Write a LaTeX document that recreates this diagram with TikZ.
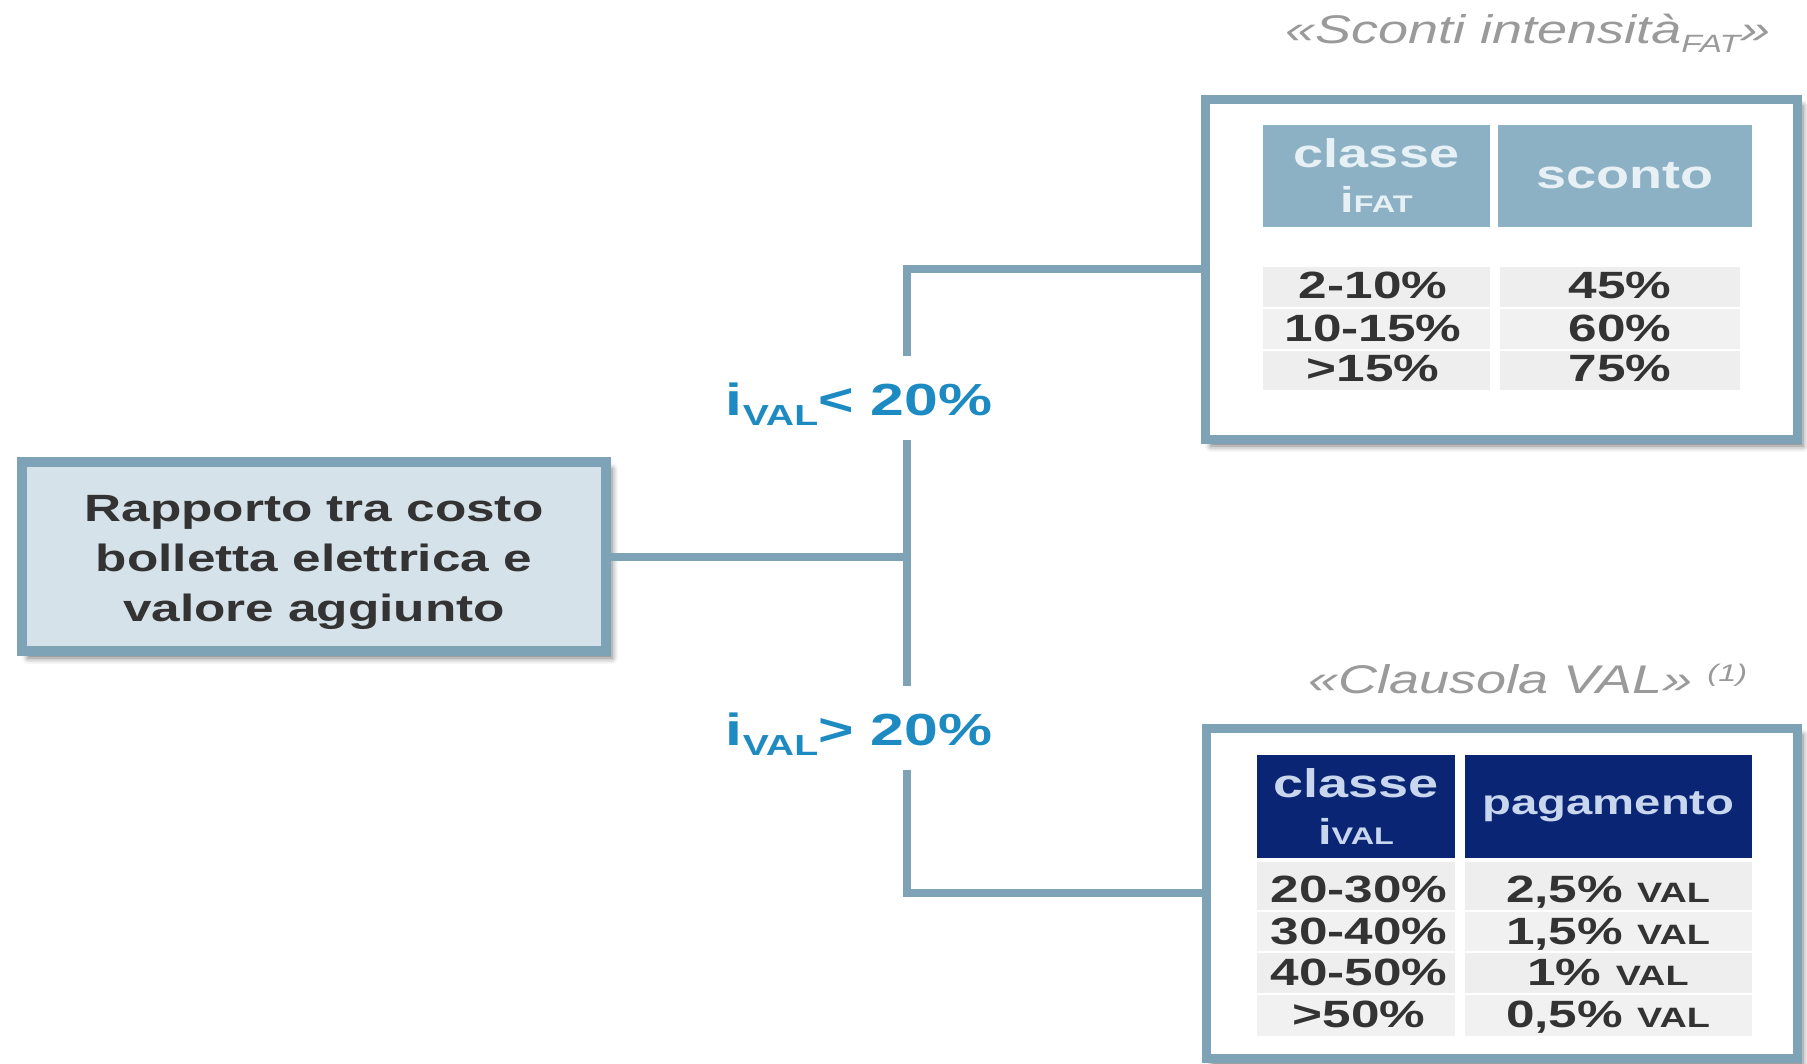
\documentclass[tikz,border=0pt]{standalone}
\usepackage{fontspec}
\setmainfont[FakeStretch=1.35]{Liberation Sans}
\usetikzlibrary{shadows.blur}
\definecolor{bord}{HTML}{7EA2B6}
\definecolor{mainfill}{HTML}{D6E2E9}
\definecolor{hdrA}{HTML}{8CB1C4}
\definecolor{hdrAtext}{HTML}{E6F0F5}
\definecolor{hdrB}{HTML}{0B2575}
\definecolor{hdrBtext}{HTML}{C8D6EE}
\definecolor{rowshade}{HTML}{EEEEEE}
\definecolor{txt}{HTML}{333333}
\definecolor{lab}{HTML}{1E8AC2}
\definecolor{ttl}{HTML}{9A9A9A}
\newcommand{\fsz}[2]{\fontsize{#1}{#2}\selectfont}
\begin{document}
\begin{tikzpicture}[x=1pt,y=-1pt,
  shadowed/.style={blur shadow={shadow xshift=6pt, shadow yshift=-7pt, shadow blur radius=6pt, shadow opacity=55}},
  mainbox/.style={draw=bord, line width=10pt, fill=mainfill, inner sep=0pt, shadowed},
  tabbox/.style={draw=bord, line width=9pt, fill=white, inner sep=0pt, shadowed},
  maintext/.style={font=\bfseries\fsz{38}{50}, text=txt, align=center, inner sep=0pt},
  conn/.style={draw=bord, line width=8pt, line join=miter},
  lbl/.style={font=\bfseries\fsz{45}{45}, text=lab, inner sep=0pt, text height=59pt, text depth=25pt, anchor=base},
  ttlst/.style={font=\itshape\fsz{40}{40}, text=ttl, inner sep=0pt, anchor=base west},
  hdrcellA/.style={fill=hdrA, inner sep=0pt, text=hdrAtext, font=\bfseries\fsz{40}{45}, align=center},
  hdrcellB/.style={fill=hdrB, inner sep=0pt, text=hdrBtext, font=\bfseries\fsz{40}{47}, align=center},
  rowt/.style={font=\bfseries\fsz{38}{38}, text=txt, inner sep=0pt, text height=27pt, text depth=0pt}
]
\useasboundingbox (0,0) rectangle (1807,1063);

% junction
\coordinate (jx) at (907,556.5);

% labels on the tree
\node[lbl] (lab1) at (859,415) {i\raisebox{-10pt}{\fsz{29}{29}VAL}<\ 20\%};
\node[lbl] (lab2) at (859,745) {i\raisebox{-10pt}{\fsz{29}{29}VAL}>\ 20\%};

% boxes
\node[mainbox, minimum width=584pt, minimum height=189pt] (main) at (314,556.5) {};
\node[maintext] (maintxt) at (314,562.5) {Rapporto tra costo\\bolletta elettrica e\\valore aggiunto};

\node[tabbox, minimum width=592pt, minimum height=340pt] (topbox) at (1501,269) {};
\node[tabbox, minimum width=591pt, minimum height=330pt] (botbox) at (1501.5,893) {};

% connectors
\draw[conn] (main.east) -- (main.east -| jx);
\draw[conn] (topbox.west) -| (lab1.north -| jx);
\draw[conn] (lab1.south -| jx) -- (lab2.north -| jx);
\draw[conn] (lab2.south -| jx) |- (botbox.west);

% titles
\node[ttlst] (t1) at (1285,43) {«Sconti intensità\raisebox{-9pt}{\fsz{25}{25}FAT}»};
\node[ttlst] (t2) at (1308,693) {«Clausola VAL» \raisebox{12pt}{\fsz{24}{24}(1)}};

% ---- top table ----
\node[hdrcellA, minimum width=227pt, minimum height=102pt] (hA1) at (1376.5,176) {classe\\{\fsz{36}{36}i\fsz{24}{24}FAT}};
\node[hdrcellA, minimum width=254pt, minimum height=102pt] (hA2) at (1625,176) {sconto};
\fill[rowshade] (1263,267) rectangle (1490,307);
\fill[rowshade!80!white] (1263,309) rectangle (1490,349);
\fill[rowshade] (1263,351) rectangle (1490,390);
\fill[rowshade] (1500,267) rectangle (1740,307);
\fill[rowshade!80!white] (1500,309) rectangle (1740,349);
\fill[rowshade] (1500,351) rectangle (1740,390);
\node[rowt] (a11) at (1373,285) {2-10\%};
\node[rowt] (a21) at (1373,328) {10-15\%};
\node[rowt] (a31) at (1373,368) {>15\%};
\node[rowt] (a12) at (1620,285) {45\%};
\node[rowt] (a22) at (1620,328) {60\%};
\node[rowt] (a32) at (1620,368) {75\%};

% ---- bottom table ----
\node[hdrcellB, minimum width=198pt, minimum height=103pt] (hB1) at (1356,806.5) {classe\\{\fsz{36}{36}i\fsz{24}{24}VAL}};
\node[hdrcellB, minimum width=287pt, minimum height=103pt, font=\bfseries\fsz{35}{40}] (hB2) at (1608.5,806.5) {pagamento};
\fill[rowshade] (1257,862) rectangle (1455,910);
\fill[rowshade!80!white] (1257,912) rectangle (1455,951);
\fill[rowshade] (1257,953) rectangle (1455,993);
\fill[rowshade!80!white] (1257,995) rectangle (1455,1036);
\fill[rowshade] (1465,862) rectangle (1752,910);
\fill[rowshade!80!white] (1465,912) rectangle (1752,951);
\fill[rowshade] (1465,953) rectangle (1752,993);
\fill[rowshade!80!white] (1465,995) rectangle (1752,1036);
\node[rowt] (b11) at (1359,889) {20-30\%};
\node[rowt] (b21) at (1359,931) {30-40\%};
\node[rowt] (b31) at (1359,972) {40-50\%};
\node[rowt] (b41) at (1359,1014) {>50\%};
\node[rowt] (b12) at (1608,889) {2,5\% {\fsz{28}{28}VAL}};
\node[rowt] (b22) at (1608,931) {1,5\% {\fsz{28}{28}VAL}};
\node[rowt] (b32) at (1608,972) {1\% {\fsz{28}{28}VAL}};
\node[rowt] (b42) at (1608,1014) {0,5\% {\fsz{28}{28}VAL}};
\end{tikzpicture}
\end{document}
